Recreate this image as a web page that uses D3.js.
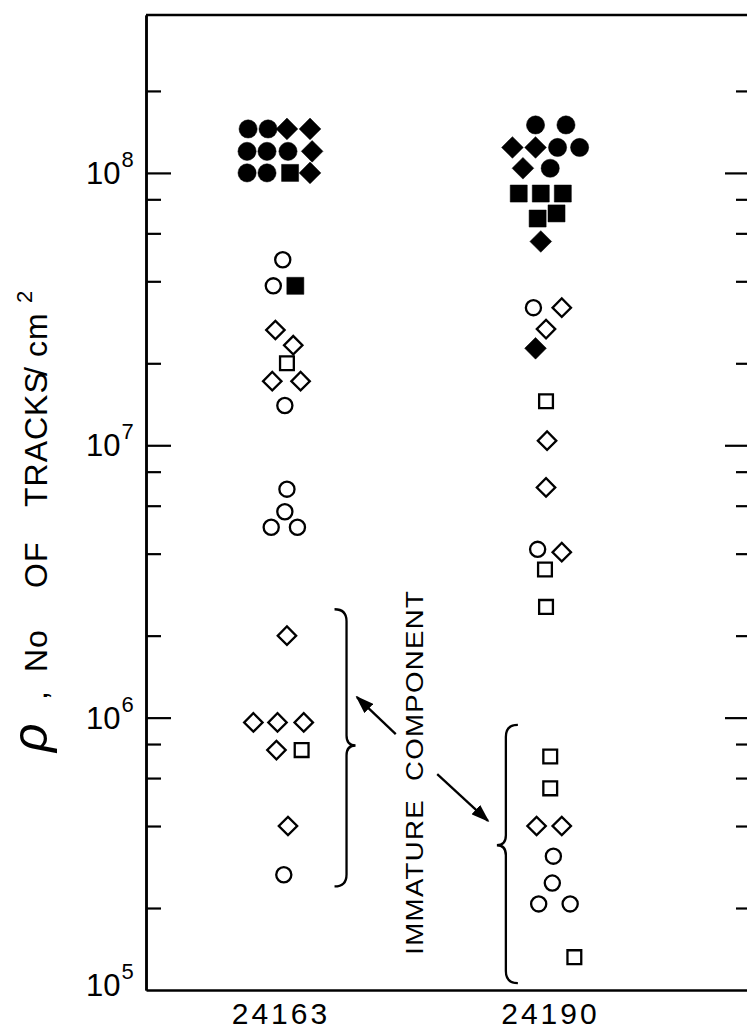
<!DOCTYPE html>
<html>
<head>
<meta charset="utf-8">
<script src="https://cdn.jsdelivr.net/npm/d3@7"></script>
<style>
  body { margin: 0; background: #fff; }
  svg { display: block; }
  text { font-family: "Liberation Sans", Arial, sans-serif; fill: #000; }
</style>
</head>
<body>
<svg id="chart"></svg>
<script>
const W = 747, H = 1035;

// sample names on the x axis
const samples = ["24163", "24190"];
// decades labelled on the y axis, and the minor multipliers between them
const decades = [1e5, 1e6, 1e7, 1e8];
const minorSteps = [2, 4, 6, 8];

// [track density, sideways slot inside the column, shape, filled?]
const sample24163 = [
  [1.45e8, -1.85, "circle", 1], [1.45e8, -0.9, "circle", 1], [1.45e8, 0, "diamond", 1], [1.45e8, 1.1, "diamond", 1],
  [1.2e8, -1.9, "circle", 1], [1.2e8, -0.95, "circle", 1], [1.2e8, 0.05, "circle", 1], [1.2e8, 1.2, "diamond", 1],
  [1.0e8, -1.9, "circle", 1], [1.0e8, -0.95, "circle", 1], [1.0e8, 0.15, "square", 1], [1.0e8, 1.1, "diamond", 1],
  [4.8e7, -0.2, "circle", 0],
  [3.85e7, -0.65, "circle", 0], [3.85e7, 0.4, "square", 1],
  [2.65e7, -0.55, "diamond", 0],
  [2.33e7, 0.3, "diamond", 0],
  [2.0e7, 0, "square", 0],
  [1.72e7, -0.7, "diamond", 0], [1.72e7, 0.65, "diamond", 0],
  [1.4e7, -0.1, "circle", 0],
  [6.9e6, 0, "circle", 0],
  [5.7e6, -0.1, "circle", 0],
  [5.0e6, -0.75, "circle", 0], [5.0e6, 0.5, "circle", 0],
  [2.0e6, 0, "diamond", 0],
  [9.6e5, -1.6, "diamond", 0], [9.6e5, -0.45, "diamond", 0], [9.6e5, 0.8, "diamond", 0],
  [7.6e5, -0.5, "diamond", 0], [7.6e5, 0.7, "square", 0],
  [4.0e5, 0.05, "diamond", 0],
  [2.65e5, -0.15, "circle", 0]
];

const sample24190 = [
  [1.5e8, -0.5, "circle", 1], [1.5e8, 0.95, "circle", 1],
  [1.24e8, -1.6, "diamond", 1], [1.24e8, -0.5, "diamond", 1], [1.24e8, 0.55, "circle", 1], [1.24e8, 1.6, "circle", 1],
  [1.04e8, -1.1, "diamond", 1], [1.04e8, 0.2, "circle", 1],
  [8.4e7, -1.3, "square", 1], [8.4e7, -0.25, "square", 1], [8.4e7, 0.8, "square", 1],
  [7.1e7, 0.5, "square", 1], [6.8e7, -0.4, "square", 1],
  [5.6e7, -0.25, "diamond", 1],
  [3.2e7, -0.6, "circle", 0], [3.2e7, 0.75, "diamond", 0],
  [2.67e7, 0, "diamond", 0],
  [2.27e7, -0.5, "diamond", 1],
  [1.45e7, 0, "square", 0],
  [1.04e7, 0.05, "diamond", 0],
  [7.0e6, 0, "diamond", 0],
  [4.15e6, -0.4, "circle", 0], [4.05e6, 0.75, "diamond", 0],
  [3.5e6, -0.05, "square", 0],
  [2.55e6, 0, "square", 0],
  [7.2e5, 0.2, "square", 0],
  [5.5e5, 0.2, "square", 0],
  [4.0e5, -0.45, "diamond", 0], [4.0e5, 0.75, "diamond", 0],
  [3.1e5, 0.35, "circle", 0],
  [2.47e5, 0.3, "circle", 0],
  [2.07e5, -0.35, "circle", 0], [2.07e5, 1.15, "circle", 0],
  [1.32e5, 1.35, "square", 0]
];

const margin = { top: 15, left: 146, right: W - 752, bottom: H - 990 };
const slot = 0.081; // one symbol width, in column units

const svg = d3.select("#chart").attr("width", W).attr("height", H);

// x: column index (0 = 24163, 1 = 24190)
const x = d3.scaleLinear()
  .domain([-0.544, 1.795])
  .range([margin.left, W - margin.right]);

const y = d3.scaleLog()
  .domain([1e5, 3.8e8])
  .range([H - margin.bottom, margin.top]);

const minorTicks = [];
decades.forEach(d => minorSteps.forEach(m => {
  if (d * m < y.domain()[1]) minorTicks.push(d * m);
}));

function styleAxis(g) {
  g.selectAll(".domain").attr("stroke-width", 2.5);
  g.selectAll(".tick line").attr("stroke-width", 2.2);
  g.selectAll(".tick text").remove();
}
// left axis, ticks pointing in
svg.append("g")
  .attr("transform", "translate(" + margin.left + ",0)")
  .call(d3.axisRight(y).tickValues(decades.slice(1)).tickSize(25).tickSizeOuter(0))
  .call(styleAxis);
svg.append("g")
  .attr("transform", "translate(" + margin.left + ",0)")
  .call(d3.axisRight(y).tickValues(minorTicks).tickSize(15).tickSizeOuter(0))
  .call(styleAxis);

// right axis (its spine sits just off the page)
svg.append("g")
  .attr("transform", "translate(" + (W - margin.right) + ",0)")
  .call(d3.axisLeft(y).tickValues(decades.slice(1)).tickSize(27).tickSizeOuter(0))
  .call(styleAxis);
svg.append("g")
  .attr("transform", "translate(" + (W - margin.right) + ",0)")
  .call(d3.axisLeft(y).tickValues(minorTicks).tickSize(16).tickSizeOuter(0))
  .call(styleAxis);

// top frame
svg.append("line")
  .attr("x1", margin.left).attr("x2", W - margin.right)
  .attr("y1", y(y.domain()[1])).attr("y2", y(y.domain()[1]))
  .attr("stroke", "#000").attr("stroke-width", 2.5);

// bottom axis with sample names
const xAxis = svg.append("g")
  .attr("transform", "translate(0," + (H - margin.bottom) + ")")
  .call(d3.axisBottom(x).tickValues([-0.025, 1.015]).tickSize(0).tickPadding(13)
    .tickSizeOuter(0).tickFormat((d, i) => samples[i]));
xAxis.select(".domain").attr("stroke-width", 2.5);
xAxis.selectAll(".tick text")
  .attr("font-size", 30).attr("letter-spacing", 3)
  .attr("font-family", "Liberation Sans, Arial, sans-serif");

// decade labels 10^n
const expLabels = svg.append("g");
decades.forEach(d => {
  const t = expLabels.append("text")
    .attr("x", 86).attr("y", d === 1e5 ? y(d) + 6 : y(d) + 11)
    .attr("font-size", 31);
  t.append("tspan").text("10");
  t.append("tspan").attr("dy", -17).attr("dx", 1).attr("font-size", 22).text(Math.round(Math.log10(d)));
});

// y axis title, pieces placed along the rotated line (x = -page y)
const yTitle = svg.append("text")
  .attr("transform", "translate(47,0) rotate(-90)")
  .attr("font-size", 32)
  .attr("letter-spacing", 1);
yTitle.append("tspan").attr("x", -752).attr("font-size", 50).attr("font-style", "italic").text("ρ");
yTitle.append("tspan").attr("x", -700).text(",");
yTitle.append("tspan").attr("x", -672).text("No");
yTitle.append("tspan").attr("x", -588).text("OF");
yTitle.append("tspan").attr("x", -507).text("TRACKS");
yTitle.append("tspan").attr("x", -376).text("/");
yTitle.append("tspan").attr("x", -357).text("cm");
yTitle.append("tspan").attr("x", -303).attr("dy", -15).attr("font-size", 22).text("2");

// data symbols
const symbolSize = {
  circle: [180, 260],
  square: [190, 290],
  diamond: [170, 235]
};
function drawColumn(rows, col) {
  svg.append("g").selectAll("path")
    .data(rows)
    .join("path")
    .attr("transform", d => "translate(" + x(col + d[1] * slot) + "," + y(d[0]) + ")" +
      (d[2] === "diamond" ? " rotate(45)" : ""))
    .attr("d", d => d3.symbol()
      .type(d[2] === "circle" ? d3.symbolCircle : d3.symbolSquare)
      .size(symbolSize[d[2]][d[3]])())
    .attr("fill", d => d[3] ? "#000" : "#fff")
    .attr("stroke", "#000")
    .attr("stroke-width", d => d[3] ? 0.5 : 2.3);
}
drawColumn(sample24163, 0);
drawColumn(sample24190, 1);

// braces round the immature component
function brace(sx, y0, y1, ym, dir) {
  const c = 12, t = 9 * dir, e = -12 * dir;
  return "M" + (sx + e) + "," + y0 +
    " Q" + sx + "," + y0 + " " + sx + "," + (y0 + c) +
    " L" + sx + "," + (ym - 10) +
    " Q" + sx + "," + ym + " " + (sx + t) + "," + ym +
    " Q" + sx + "," + ym + " " + sx + "," + (ym + 10) +
    " L" + sx + "," + (y1 - c) +
    " Q" + sx + "," + y1 + " " + (sx + e) + "," + y1;
}
const notes = svg.append("g").attr("fill", "none").attr("stroke", "#000").attr("stroke-width", 2.3);
notes.append("path").attr("d", brace(x(0.23), y(2.5e6), y(2.4e5), y(7.9e5), 1));
notes.append("path").attr("d", brace(x(0.845), y(9.4e5), y(1.06e5), y(3.4e5), -1));

svg.append("defs").append("marker")
  .attr("id", "head")
  .attr("viewBox", "0 0 10 7")
  .attr("refX", 9).attr("refY", 3.5)
  .attr("markerWidth", 8).attr("markerHeight", 5.6)
  .attr("markerUnits", "strokeWidth")
  .attr("orient", "auto")
  .append("path").attr("d", "M0,0 L10,3.5 L0,7 Z").attr("fill", "#000").attr("stroke", "none");

notes.append("line")
  .attr("x1", x(0.42)).attr("y1", y(8.7e5))
  .attr("x2", x(0.27)).attr("y2", y(1.19e6))
  .attr("marker-end", "url(#head)");
notes.append("line")
  .attr("x1", x(0.58)).attr("y1", y(6.2e5))
  .attr("x2", x(0.776)).attr("y2", y(4.18e5))
  .attr("marker-end", "url(#head)");

// rotated note, stretched along its line like the hand lettering
svg.append("text")
  .attr("transform", "translate(" + x(0.525) + "," + y(6.3e5) + ") rotate(-90) scale(1.2,1)")
  .attr("text-anchor", "middle")
  .attr("font-size", 23)
  .attr("letter-spacing", 1.1)
  .style("white-space", "pre")
  .text("IMMATURE  COMPONENT");
</script>
</body>
</html>
